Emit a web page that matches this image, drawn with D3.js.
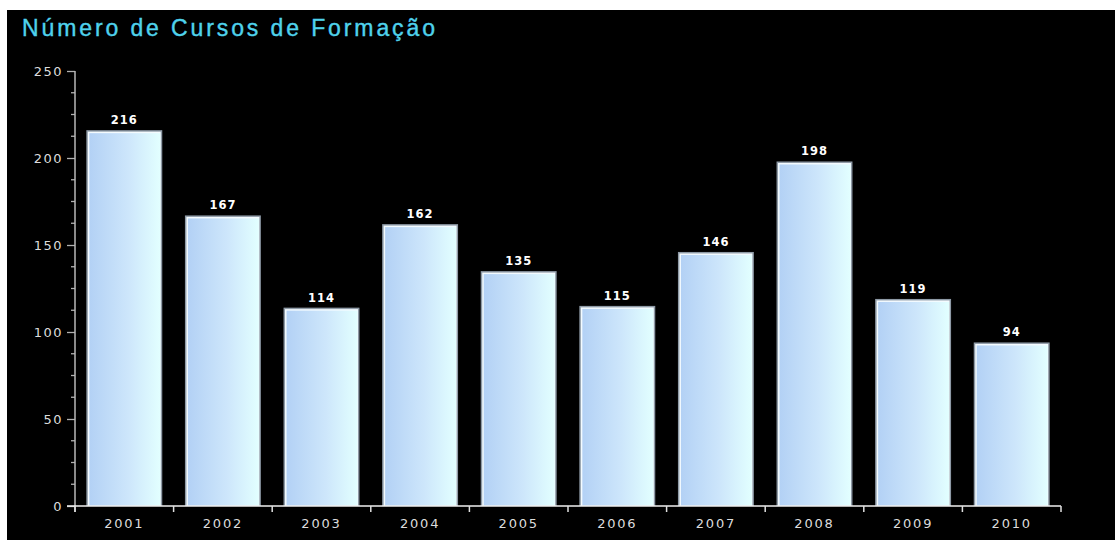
<!DOCTYPE html>
<html>
<head>
<meta charset="utf-8">
<script src="https://cdn.jsdelivr.net/npm/d3@7"></script>
<style>
  html, body { margin: 0; padding: 0; background: #ffffff; }
  svg { display: block; }
</style>
</head>
<body>
<svg id="chart" width="1115" height="540"></svg>
<script>
// Number of training courses per year
const years = ["2001", "2002", "2003", "2004", "2005", "2006", "2007", "2008", "2009", "2010"];
const courses = [216, 167, 114, 162, 135, 115, 146, 198, 119, 94];
const yTicks = [0, 50, 100, 150, 200, 250];
const titleText = "Número de Cursos de Formação";

const svg = d3.select("#chart");
const W = 1115, H = 540;

// black panel with thin white frame top/left
svg.append("rect").attr("x", 7).attr("y", 10).attr("width", W - 7).attr("height", H - 10).attr("fill", "#000");

const margin = { left: 75, right: 1061, top: 71, bottom: 506 };

const x = d3.scaleBand().domain(years).range([margin.left, margin.right]).paddingInner(0.23).paddingOuter(0.115);
const y = d3.scaleLinear().domain([0, 250]).range([margin.bottom, margin.top]);

// bar gradient: soft blue on the left fading to pale cyan on the right
const defs = svg.append("defs");
const grad = defs.append("linearGradient").attr("id", "barGrad").attr("x1", "0").attr("x2", "1").attr("y1", "0").attr("y2", "0");
grad.append("stop").attr("offset", "0%").attr("stop-color", "#b3d1f5");
grad.append("stop").attr("offset", "55%").attr("stop-color", "#cde6fb");
grad.append("stop").attr("offset", "100%").attr("stop-color", "#e2ffff");

// title: fixed size, spread to the header width
const title = svg.append("text")
  .attr("x", 22).attr("y", 36)
  .attr("fill", "#4fd2ec")
  .attr("stroke", "#4fd2ec")
  .attr("stroke-width", 0.4)
  .style("font-family", "'Liberation Sans', Arial, sans-serif")
  .style("font-size", "23px")
  .text(titleText);
const tw = title.node().getComputedTextLength();
title.style("letter-spacing", Math.max(0, (413 - tw) / (titleText.length - 1)).toFixed(2) + "px");

const labelFont = "'DejaVu Sans', Verdana, sans-serif";

// y axis
const yAxis = d3.axisLeft(y).tickValues(yTicks).tickSize(8).tickPadding(8);
const gy = svg.append("g").attr("transform", `translate(${margin.left},0)`).call(yAxis);
gy.select(".domain").remove();
gy.selectAll(".tick line").attr("stroke", "#b0b0b0").attr("stroke-width", 1.3);
gy.selectAll(".tick text")
  .attr("fill", "#dcdcdc")
  .style("font-family", labelFont)
  .style("font-size", "13px")
  .style("letter-spacing", "1.5px")
  .attr("dx", 4);

// minor y ticks every 12.5
const minor = d3.range(0, 250, 12.5).filter(v => v % 50 !== 0);
svg.append("g").selectAll("line").data(minor).join("line")
  .attr("x1", margin.left - 4).attr("x2", margin.left)
  .attr("y1", d => y(d)).attr("y2", d => y(d))
  .attr("stroke", "#b0b0b0").attr("stroke-width", 1.3);

// y axis line (extends slightly below the baseline)
svg.append("line")
  .attr("x1", margin.left).attr("x2", margin.left)
  .attr("y1", y(250)).attr("y2", margin.bottom + 6)
  .attr("stroke", "#b8b8b8").attr("stroke-width", 1.5);

// bars
const bars = svg.append("g").selectAll("g").data(years).join("g");
bars.append("rect")
  .attr("x", d => x(d)).attr("y", (d, i) => y(courses[i]))
  .attr("width", x.bandwidth()).attr("height", (d, i) => y(0) - y(courses[i]))
  .attr("fill", "#8e9aa6");
bars.append("rect")
  .attr("x", d => x(d) + 1.5).attr("y", (d, i) => y(courses[i]) + 1.5)
  .attr("width", x.bandwidth() - 3).attr("height", (d, i) => y(0) - y(courses[i]) - 1.5)
  .attr("fill", "#f4fbff");
bars.append("rect")
  .attr("x", d => x(d) + 3).attr("y", (d, i) => y(courses[i]) + 3)
  .attr("width", x.bandwidth() - 5).attr("height", (d, i) => y(0) - y(courses[i]) - 3)
  .attr("fill", "url(#barGrad)");

// value labels
bars.append("text")
  .attr("x", d => x(d) + x.bandwidth() / 2)
  .attr("y", (d, i) => y(courses[i]) - 6)
  .attr("text-anchor", "middle")
  .attr("fill", "#ffffff")
  .style("font-family", labelFont)
  .style("font-weight", "bold")
  .style("font-size", "11.5px")
  .style("letter-spacing", "1px")
  .text((d, i) => courses[i]);

// x axis with boundary ticks between categories
const xAxis = d3.axisBottom(x).tickSize(0).tickPadding(13);
const gx = svg.append("g").attr("transform", `translate(0,${margin.bottom})`).call(xAxis);
gx.select(".domain").remove();
gx.selectAll(".tick text")
  .attr("fill", "#dcdcdc")
  .style("font-family", labelFont)
  .style("font-size", "13px")
  .style("letter-spacing", "1.8px");

svg.append("line")
  .attr("x1", margin.left - 8).attr("x2", margin.right)
  .attr("y1", margin.bottom).attr("y2", margin.bottom)
  .attr("stroke", "#f0f0f0").attr("stroke-width", 1.5);

const step = x.step();
const bounds = d3.range(0, years.length + 1).map(i => margin.left + i * step);
svg.append("g").selectAll("line").data(bounds).join("line")
  .attr("x1", d => d).attr("x2", d => d)
  .attr("y1", margin.bottom).attr("y2", margin.bottom + 6)
  .attr("stroke", "#e0e0e0").attr("stroke-width", 1.5);
</script>
</body>
</html>
